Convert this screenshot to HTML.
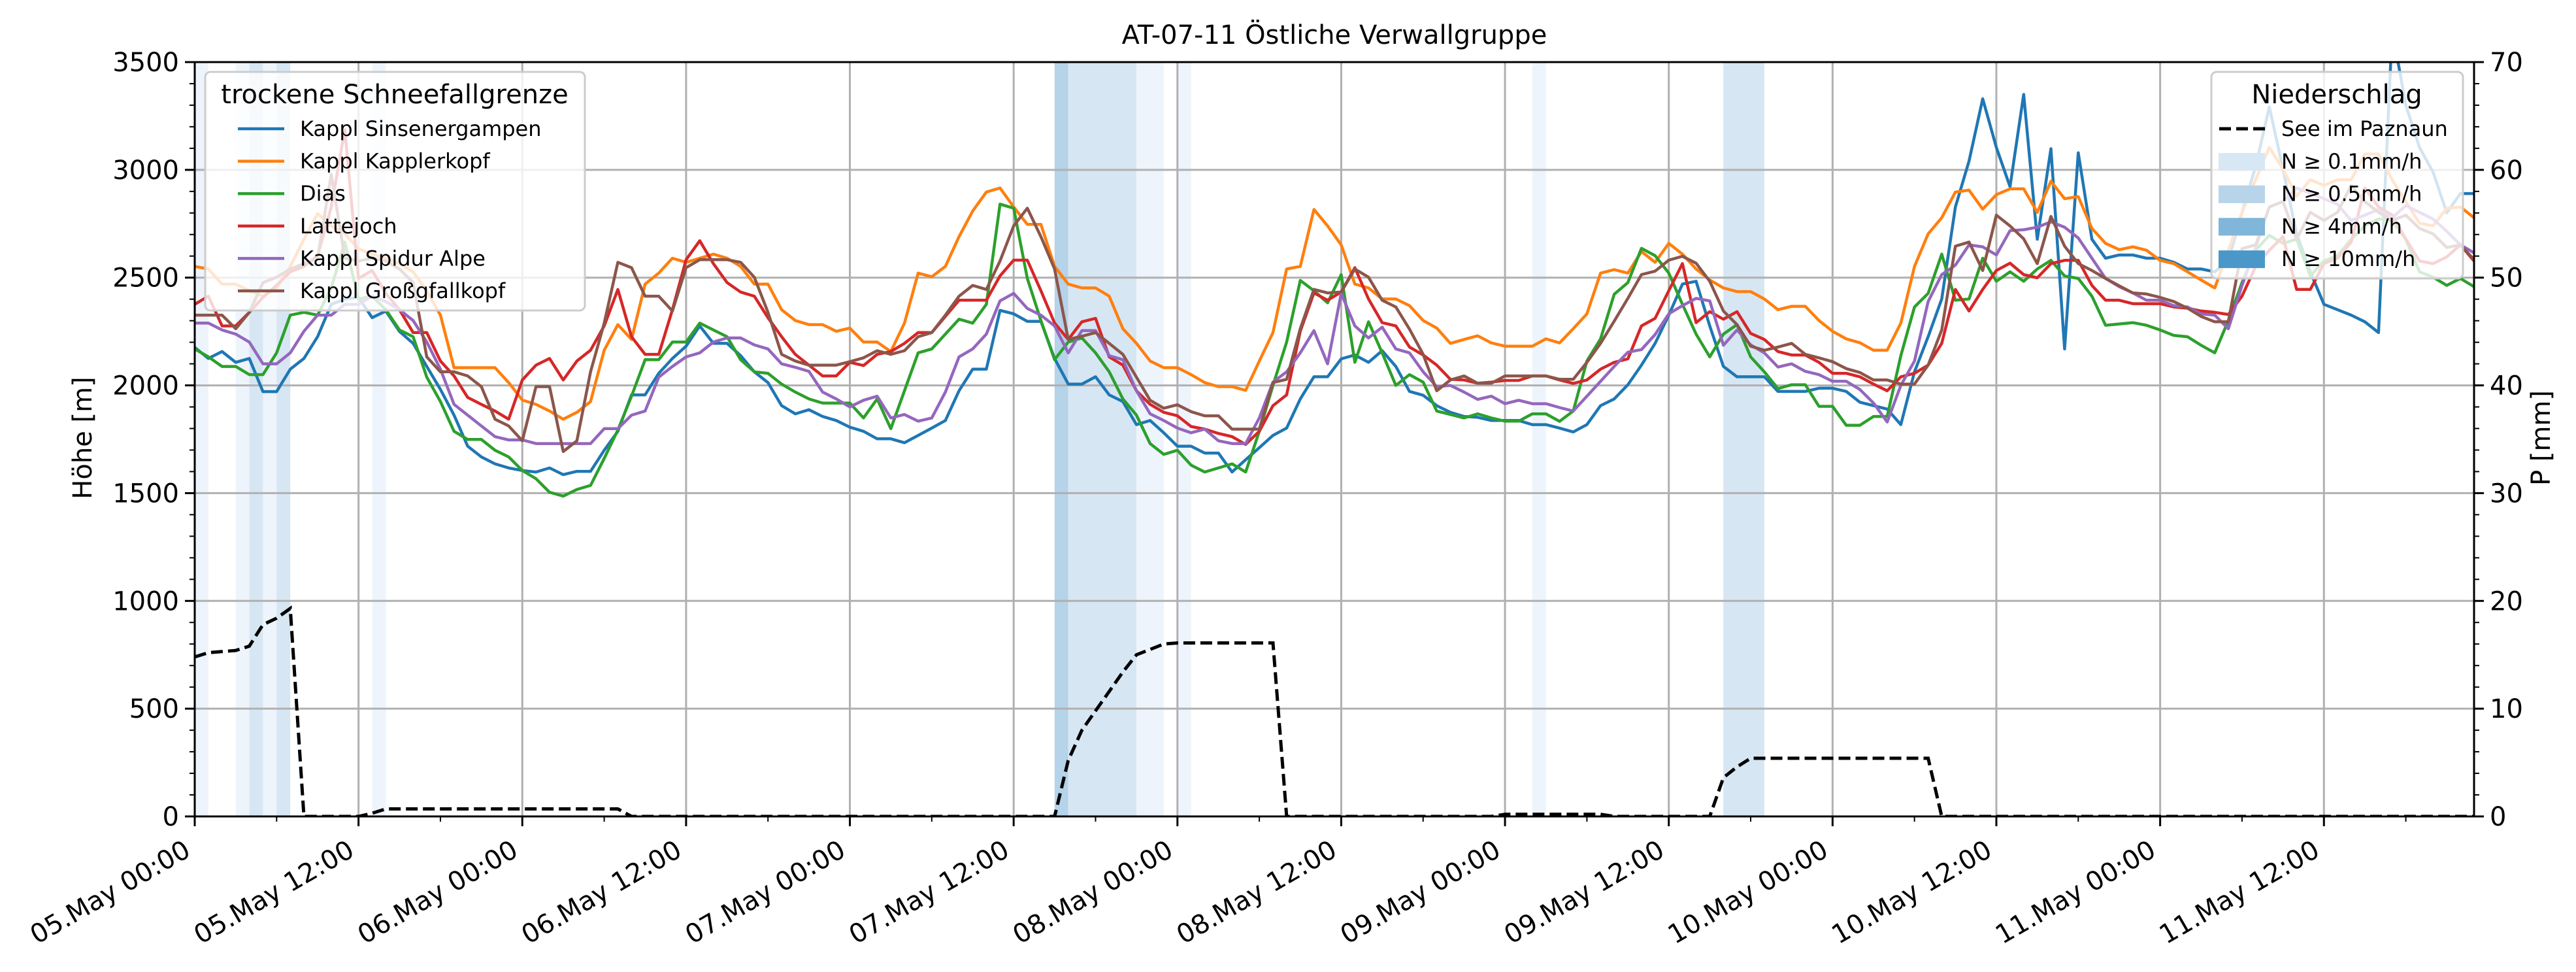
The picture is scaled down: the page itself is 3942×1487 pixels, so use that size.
<!DOCTYPE html>
<html>
<head>
<meta charset="utf-8">
<style>
html,body{margin:0;padding:0;background:#fff;}
svg{display:block;}
text{font-family:"DejaVu Sans","Liberation Sans",sans-serif;fill:#000;}
</style>
</head>
<body>
<svg id="chart" width="3942" height="1487" viewBox="0 0 3942 1487" xmlns="http://www.w3.org/2000/svg">
  <defs><clipPath id="plotclip"><rect x="298" y="95" width="3488" height="1154"/></clipPath></defs>
  <rect x="0" y="0" width="3942" height="1487" fill="#fff"/>
  <g id="bands" clip-path="url(#plotclip)"></g>
  <g id="grid"></g>
  <g id="lines" clip-path="url(#plotclip)"></g>
  <g id="axes"></g>
  <text x="2042" y="67" font-size="40" text-anchor="middle">AT-07-11 Östliche Verwallgruppe</text>
  <text transform="translate(140,670) rotate(-90)" font-size="40" text-anchor="middle">Höhe [m]</text>
  <text transform="translate(3902,670) rotate(-90)" font-size="40" text-anchor="middle">P [mm]</text>
  <g id="legend-left"></g>
  <g id="legend-right"></g>
</svg>
<script>
const hourLabels = ["05.May 00:00","05.May 12:00","06.May 00:00","06.May 12:00","07.May 00:00","07.May 12:00","08.May 00:00","08.May 12:00","09.May 00:00","09.May 12:00","10.May 00:00","10.May 12:00","11.May 00:00","11.May 12:00"];
const yTicks = [0,500,1000,1500,2000,2500,3000,3500];
const y2Ticks = [0,10,20,30,40,50,60,70];
const seriesNames = ["Kappl Sinsenergampen","Kappl Kapplerkopf","Dias","Lattejoch","Kappl Spidur Alpe","Kappl Großgfallkopf"];
const seriesColors = ["#1f77b4","#ff7f0e","#2ca02c","#d62728","#9467bd","#8c564b"];
const sBlue = [2176,2125,2157,2107,2125,1971,1971,2075,2125,2226,2376,2400,2408,2314,2345,2250,2195,2088,1981,1862,1718,1668,1636,1617,1605,1598,1617,1586,1601,1601,1699,1787,1956,1956,2056,2125,2182,2276,2195,2195,2138,2063,
2013,1906,1868,1887,1856,1837,1806,1787,1752,1752,1734,1768,1802,1837,1975,2075,2075,2348,2332,2297,2297,2125,2006,2006,2040,1956,1925,1818,1837,1780,1718,1718,1686,1686,1598,1655,1711,1768,1802,1937,2040,2040,
2123,2141,2107,2161,2088,1972,1954,1906,1875,1856,1852,1837,1837,1837,1818,1818,1802,1784,1818,1906,1937,2003,2094,2195,2326,2470,2483,2276,2088,2040,2040,2040,1972,1972,1972,1987,1987,1972,1922,1906,1890,1818,
2063,2226,2401,2828,3041,3330,3104,2922,3350,2678,3098,2169,3079,2678,2590,2605,2605,2590,2590,2571,2540,2540,2527,2577,2803,3016,3292,3004,2703,2527,2376,2351,2326,2295,2245,3650,3300,3104,2990,2800,2890,2890];
const sOrange = [2552,2540,2470,2470,2439,2414,2452,2552,2678,2797,2740,2703,2634,2609,2590,2565,2527,2439,2326,2082,2082,2082,2082,2013,1932,1912,1881,1843,1875,1925,2163,2282,2213,2470,2521,2590,2571,2590,2609,2590,2552,2470,
2470,2351,2301,2282,2282,2251,2266,2201,2201,2157,2289,2521,2504,2552,2690,2809,2897,2916,2828,2747,2747,2552,2470,2452,2452,2414,2263,2195,2113,2082,2082,2050,2013,1994,1994,1977,2113,2245,2540,2552,2816,2740,
2652,2470,2452,2401,2401,2370,2301,2266,2195,2213,2230,2197,2182,2182,2182,2216,2197,2263,2332,2521,2537,2521,2621,2571,2659,2609,2540,2489,2452,2435,2435,2401,2351,2367,2367,2301,2251,2216,2198,2163,2163,2289,
2552,2703,2778,2897,2906,2818,2885,2912,2912,2803,2947,2866,2876,2728,2659,2630,2643,2627,2580,2565,2527,2489,2452,2627,2803,2954,3104,3004,2878,2954,2928,2954,2954,3073,3073,2954,2853,2753,2740,2822,2828,2778];
const sGreen = [2169,2132,2088,2088,2050,2050,2151,2326,2339,2326,2452,2665,2401,2414,2351,2257,2226,2038,1925,1787,1749,1749,1699,1668,1605,1567,1504,1486,1517,1536,1661,1793,1950,2119,2119,2201,2201,2289,2257,2226,2119,2063,
2056,2006,1969,1937,1918,1918,1918,1849,1937,1799,1975,2151,2169,2238,2307,2289,2376,2841,2822,2496,2301,2119,2201,2220,2151,2063,1937,1862,1730,1680,1699,1630,1598,1617,1636,1598,1787,2000,2201,2487,2439,2383,
2514,2107,2295,2151,2000,2050,2015,1881,1865,1849,1868,1849,1834,1834,1868,1868,1833,1881,2113,2216,2423,2477,2636,2602,2521,2376,2238,2132,2238,2282,2132,2063,1985,2003,2003,1903,1903,1815,1815,1856,1856,2138,
2364,2427,2609,2395,2401,2590,2483,2527,2483,2540,2580,2508,2496,2414,2279,2285,2291,2279,2257,2232,2226,2186,2151,2301,2477,2627,2696,2659,2678,2508,2577,2602,2678,2740,2772,2765,2678,2527,2502,2464,2496,2458];
const sRed = [2376,2414,2276,2276,2339,2408,2464,2527,2552,2602,2828,3186,2496,2533,2427,2351,2245,2245,2113,2044,1944,1912,1881,1843,2025,2094,2125,2025,2113,2163,2276,2445,2226,2144,2144,2351,2583,2671,2565,2477,2433,2414,
2314,2226,2144,2094,2044,2044,2107,2092,2144,2157,2195,2245,2245,2320,2395,2395,2395,2508,2581,2581,2439,2289,2213,2295,2311,2132,2094,1975,1912,1875,1859,1809,1797,1777,1762,1726,1787,1906,1956,2251,2429,2395,
2433,2546,2401,2291,2276,2178,2141,2094,2028,2025,2010,2015,2023,2023,2044,2044,2025,2009,2025,2075,2107,2123,2276,2311,2439,2565,2291,2342,2307,2342,2241,2213,2157,2141,2141,2107,2056,2056,2040,2006,1975,2040,
2056,2094,2195,2445,2345,2445,2533,2567,2514,2499,2565,2580,2580,2464,2395,2395,2379,2379,2379,2364,2358,2345,2339,2329,2414,2552,2627,2690,2445,2445,2565,2590,2665,2916,2828,2790,2678,2577,2565,2596,2652,2577];
const sPurple = [2289,2289,2257,2238,2201,2100,2100,2151,2251,2326,2326,2376,2376,2414,2389,2351,2301,2201,2075,1912,1862,1812,1762,1747,1747,1730,1730,1730,1730,1730,1799,1799,1862,1881,2038,2088,2132,2151,2201,2220,2220,2188,
2169,2100,2084,2065,1969,1937,1900,1931,1950,1849,1865,1834,1849,1969,2132,2169,2238,2392,2427,2357,2326,2276,2151,2254,2254,2138,2119,1975,1868,1837,1802,1780,1797,1743,1730,1730,1849,2015,2063,2151,2254,2100,
2427,2276,2220,2270,2169,2151,2063,1994,2000,1969,1935,1950,1915,1931,1915,1915,1897,1881,1950,2019,2088,2154,2166,2236,2332,2370,2404,2392,2186,2257,2188,2151,2085,2100,2065,2050,2019,2019,1981,1918,1830,2000,
2113,2389,2514,2558,2652,2643,2605,2718,2722,2734,2759,2734,2684,2590,2496,2458,2429,2395,2395,2370,2364,2332,2326,2263,2464,2640,2828,2853,2916,2891,2866,2840,2765,2790,2816,2778,2834,2803,2772,2715,2652,2615];
const sBrown = [2326,2326,2326,2263,2339,2477,2502,2540,2565,2590,2979,2590,2577,2590,2577,2540,2477,2132,2063,2063,2044,1994,1843,1812,1743,1994,1994,1693,1743,2063,2289,2571,2546,2414,2414,2345,2546,2583,2583,2583,2571,2502,
2339,2144,2113,2094,2094,2094,2110,2128,2161,2144,2161,2226,2245,2326,2414,2464,2445,2577,2740,2822,2690,2540,2213,2228,2245,2195,2144,2038,1931,1894,1910,1878,1859,1859,1797,1797,1797,2013,2028,2263,2445,2429,
2433,2540,2502,2395,2364,2261,2144,1975,2025,2044,2010,2010,2044,2044,2044,2044,2028,2028,2107,2195,2298,2404,2514,2530,2581,2599,2567,2483,2345,2282,2182,2163,2178,2195,2144,2128,2110,2078,2060,2025,2025,2006,
2006,2094,2257,2646,2665,2533,2790,2740,2680,2565,2784,2646,2565,2533,2496,2462,2429,2424,2408,2389,2358,2320,2295,2295,2634,2652,2828,2853,2678,2803,2765,2803,2928,2853,2803,2765,2790,2728,2703,2640,2652,2583];
const precip = [14.8,15.2,15.3,15.4,15.8,17.8,18.4,19.3,
0,0,0,0,0,0.3,
0.7,0.7,0.7,0.7,0.7,0.7,0.7,0.7,0.7,0.7,0.7,0.7,0.7,0.7,0.7,0.7,0.7,0.7,
0,0,0,0,0,0,0,0,0,0,0,0,0,0,0,0,0,0,0,0,0,0,0,0,0,0,0,0,0,0,0,
0,5.2,8,9.8,11.6,13.4,15,15.5,16,16.1,16.1,16.1,16.1,16.1,16.1,16.1,16.1,
0,0,0,0,0,0,0,0,0,0,0,0,0,0,0,0,
0.2,0.2,0.2,0.2,0.2,0.2,0.2,0.2,
0,0,0,0,0,0,0,0,
3.6,4.6,5.4,5.4,5.4,5.4,5.4,5.4,5.4,5.4,5.4,5.4,5.4,5.4,5.4,5.4,
0,0,0,0,0,0,0,0,0,0,0,0,0,0,0,0,0,0,0,0,0,0,0,0,0,0,0,0,0,0,0,0,0,0,0,0,0,0,0,0];
const bandStart = [0,3,4,5,6,13,63,64,69,72,98,112];
const bandEnd   = [1,4,5,6,7,14,64,69,71,73,99,115];
const bandLevel = [1,1,2,1,2,1,3,2,1,1,1,2];

const NS = "http://www.w3.org/2000/svg";
const L = 298, R = 3786, T = 95, B = 1249, HMAX = 167;
function xs(h){ return L + (R - L) * h / HMAX; }
function ys(m){ return B - (B - T) * m / 3500; }
function ys2(p){ return B - (B - T) * p / 70; }
function mk(tag, attrs, parent){
  const e = document.createElementNS(NS, tag);
  for (const k in attrs) e.setAttribute(k, attrs[k]);
  parent.appendChild(e);
  return e;
}
const bandColors = {1:"#eef4fb",2:"#d7e6f3",3:"#b5d3e9"};
const gB = document.getElementById("bands");
for (let i = 0; i < bandStart.length; i++){
  const r = mk("rect",{x:xs(bandStart[i]),y:T,width:xs(bandEnd[i])-xs(bandStart[i]),height:B-T,fill:bandColors[bandLevel[i]]},gB);
  
  
}
const gG = document.getElementById("grid");
for (let i = 0; i < hourLabels.length; i++){
  const x = xs(i*12);
  const l = mk("line",{x1:x,x2:x,y1:T,y2:B,stroke:"#b0b0b0","stroke-width":3},gG);
  
  
}
for (const v of yTicks){
  const y = ys(v);
  const l = mk("line",{x1:L,x2:R,y1:y,y2:y,stroke:"#b0b0b0","stroke-width":3},gG);
  
  
}
const gL = document.getElementById("lines");
const allSeries = [sBlue,sOrange,sGreen,sRed,sPurple,sBrown];
for (let s = 0; s < allSeries.length; s++){
  const pts = allSeries[s].map((v,i)=>xs(i).toFixed(1)+","+ys(v).toFixed(1)).join(" ");
  const pl = mk("polyline",{points:pts,fill:"none",stroke:seriesColors[s],"stroke-width":4.5,"stroke-linejoin":"round"},gL);
  
  
}
const pp = precip.map((v,i)=>xs(i).toFixed(1)+","+ys2(v).toFixed(1)).join(" ");
const pl2 = mk("polyline",{points:pp,fill:"none",stroke:"#000","stroke-width":5,"stroke-dasharray":"18,8"},gL);



const gA = document.getElementById("axes");
const frame = mk("rect",{x:L,y:T,width:R-L,height:B-T,fill:"none",stroke:"#000","stroke-width":3},gA);


for (const v of yTicks){
  const y = ys(v);
  const tk = mk("line",{x1:L-15,x2:L,y1:y,y2:y,stroke:"#000","stroke-width":3},gA);
  
  
  const t = mk("text",{x:L-24,y:y+14,"font-size":40,"text-anchor":"end"},gA);
  t.textContent = v;
  
  
}
for (let m = 100; m < 3500; m += 100){
  if (m % 500 === 0) continue;
  const tk = mk("line",{x1:L-8,x2:L,y1:ys(m),y2:ys(m),stroke:"#000","stroke-width":2},gA);
  
  
}
for (const v of y2Ticks){
  const y = ys2(v);
  const tk = mk("line",{x1:R,x2:R+15,y1:y,y2:y,stroke:"#000","stroke-width":3},gA);
  
  
  const t = mk("text",{x:R+24,y:y+14,"font-size":40,"text-anchor":"start"},gA);
  t.textContent = v;
  
  
}
for (let p = 2; p < 70; p += 2){
  if (p % 10 === 0) continue;
  const tk = mk("line",{x1:R,x2:R+8,y1:ys2(p),y2:ys2(p),stroke:"#000","stroke-width":2},gA);
  
  
}
for (let i = 0; i < hourLabels.length; i++){
  const x = xs(i*12);
  const tk = mk("line",{x1:x,x2:x,y1:B,y2:B+15,stroke:"#000","stroke-width":3},gA);
  
  
  const t = mk("text",{x:x-4,y:1308,"font-size":40,"text-anchor":"end",transform:"rotate(-30 "+(x-4)+" 1308)"},gA);
  t.textContent = hourLabels[i];
  
  
}
for (let h = 6; h <= HMAX; h += 12){
  const tk = mk("line",{x1:xs(h),x2:xs(h),y1:B,y2:B+8,stroke:"#000","stroke-width":2},gA);
  
  
}

// left legend
const gLL = document.getElementById("legend-left");
const lb = mk("rect",{x:314,y:110,width:581,height:365,rx:8,fill:"#fff","fill-opacity":0.8,stroke:"#cccccc","stroke-width":3},gLL);


const lt = mk("text",{x:604,y:158,"font-size":40,"text-anchor":"middle"},gLL);
lt.textContent = "trockene Schneefallgrenze";


for (let s = 0; s < seriesNames.length; s++){
  const y = 197 + s*49.6;
  const hl = mk("line",{x1:364,x2:435,y1:y,y2:y,stroke:seriesColors[s],"stroke-width":4.5},gLL);
  
  
  const tx = mk("text",{x:459,y:y+11,"font-size":32},gLL);
  tx.textContent = seriesNames[s];
  
  
}
// right legend
const gLR = document.getElementById("legend-right");
const rb = mk("rect",{x:3384,y:110,width:385,height:316,rx:8,fill:"#fff","fill-opacity":0.8,stroke:"#cccccc","stroke-width":3},gLR);


const rt = mk("text",{x:3576,y:158,"font-size":40,"text-anchor":"middle"},gLR);
rt.textContent = "Niederschlag";


const dl = mk("line",{x1:3396,x2:3466,y1:197,y2:197,stroke:"#000","stroke-width":5,"stroke-dasharray":"18,8"},gLR);


const dt = mk("text",{x:3491,y:208,"font-size":32},gLR);
dt.textContent = "See im Paznaun";


const patchLabels = ["N ≥ 0.1mm/h","N ≥ 0.5mm/h","N ≥ 4mm/h","N ≥ 10mm/h"];
const patchColors = ["#d8e7f4","#b7d4e9","#7fb6d9","#4a98c9"];
for (let i = 0; i < patchLabels.length; i++){
  const y = 247 + i*49.7;
  const pr = mk("rect",{x:3395,y:y-13,width:71,height:27,fill:patchColors[i]},gLR);
  
  
  const tx = mk("text",{x:3491,y:y+11,"font-size":32},gLR);
  tx.textContent = patchLabels[i];
  
  
}
</script>
</body>
</html>
